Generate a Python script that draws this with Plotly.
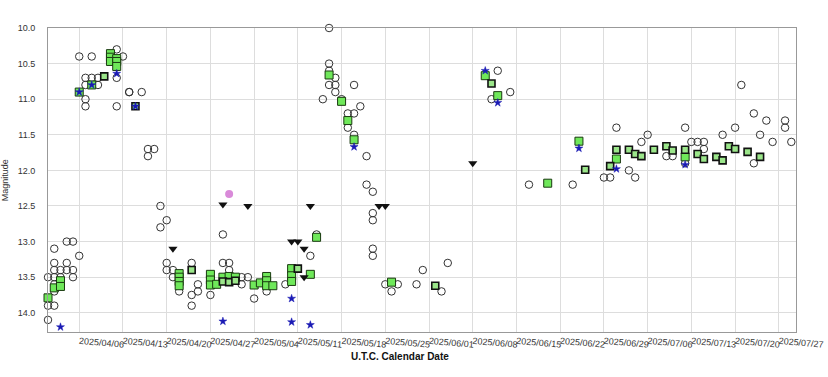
import plotly.graph_objects as go

# ---- Data ----
vis_dates = (["2025-04-01"] * 3 + ["2025-04-02"] * 7 + ["2025-04-03"] * 2 + ["2025-04-04"] * 3 +
             ["2025-04-05"] * 3 + ["2025-04-06"] * 2 + ["2025-04-07"] * 4 + ["2025-04-08"] * 2 +
             ["2025-04-09"] * 2 + ["2025-04-12"] * 3 + ["2025-04-13"] + ["2025-04-14"] * 2 +
             ["2025-04-16"] + ["2025-04-17"] * 2 + ["2025-04-18"] + ["2025-04-19"] * 2 +
             ["2025-04-20"] * 3 + ["2025-04-21"] * 2 + ["2025-04-22"] + ["2025-04-24"] * 3 +
             ["2025-04-25"] * 2 + ["2025-04-27"] + ["2025-04-29"] * 2 + ["2025-04-30"] * 2 +
             ["2025-05-02"] * 2 + ["2025-05-03"] + ["2025-05-04"] + ["2025-05-06"] + ["2025-05-09"] +
             ["2025-05-13"] + ["2025-05-14"] + ["2025-05-15"] + ["2025-05-16"] * 4 +
             ["2025-05-17"] * 3 + ["2025-05-18"] + ["2025-05-19"] * 2 + ["2025-05-20"] * 3 +
             ["2025-05-21"] + ["2025-05-22"] * 2 + ["2025-05-23"] * 5 + ["2025-05-25"] +
             ["2025-05-26"] + ["2025-05-27"] + ["2025-05-30"] + ["2025-05-31"] + ["2025-06-03"] +
             ["2025-06-04"] + ["2025-06-11"] + ["2025-06-12"] + ["2025-06-14"] + ["2025-06-17"] +
             ["2025-06-24"] + ["2025-06-29"] + ["2025-06-30"] + ["2025-07-01"] + ["2025-07-03"] +
             ["2025-07-04"] + ["2025-07-05"] + ["2025-07-06"] + ["2025-07-09"] + ["2025-07-10"] +
             ["2025-07-12"] * 2 + ["2025-07-13"] + ["2025-07-14"] + ["2025-07-15"] * 2 +
             ["2025-07-18"] + ["2025-07-20"] + ["2025-07-21"] + ["2025-07-23"] * 2 +
             ["2025-07-24"] + ["2025-07-25"] + ["2025-07-26"] + ["2025-07-28"] * 2 +
             ["2025-07-29"] + ["2025-07-30"])
vis_mags = ([13.5, 13.9, 14.1] + [13.1, 13.3, 13.4, 13.5, 13.6, 13.7, 13.9] + [13.4, 13.5] +
            [13.0, 13.3, 13.4] + [13.0, 13.4, 13.5] + [13.2, 10.4] + [10.7, 10.8, 11.0, 11.1] +
            [10.4, 10.7] + [10.7, 10.8] + [10.3, 10.7, 11.1] + [10.4] + [10.9, 10.9] + [10.9] +
            [11.7, 11.8] + [11.7] + [12.5, 12.8] + [12.7, 13.3, 13.4] + [13.4, 13.5] + [13.7] +
            [13.3, 13.75, 13.9] + [13.6, 13.7] + [13.75] + [12.9, 13.3] + [13.3, 13.4] +
            [13.5, 13.6] + [13.5] + [13.8] + [13.7] + [13.6] + [13.2] + [12.9] + [11.0] +
            [10.0, 10.5, 10.6, 10.8] + [10.7, 10.8, 10.9] + [11.0] + [11.2, 11.4] +
            [10.8, 11.2, 11.5] + [11.1] + [11.8, 12.2] + [12.3, 12.6, 12.7, 13.1, 13.2] +
            [13.6] + [13.7] + [13.6] + [13.6] + [13.4] + [13.7] + [13.3] + [11.0] + [10.6] +
            [10.9] + [12.2] + [12.2] + [12.1] + [12.1] + [11.4] + [12.0] + [12.1] + [11.6] +
            [11.5] + [11.8] + [11.8] + [11.4, 11.9] + [11.6] + [11.6] + [11.6, 11.7] + [11.5] +
            [11.4] + [10.8] + [11.2, 11.9] + [11.5] + [11.3] + [11.6] + [11.3, 11.4] + [11.6] +
            [11.5])

v_dates = ["2025-04-01", "2025-04-02", "2025-04-03", "2025-04-03", "2025-04-06", "2025-04-08",
           "2025-04-11", "2025-04-11", "2025-04-11", "2025-04-12", "2025-04-12", "2025-04-12",
           "2025-04-22", "2025-04-22", "2025-04-22", "2025-04-22", "2025-04-27", "2025-04-27",
           "2025-04-27", "2025-04-28", "2025-04-29", "2025-04-30", "2025-05-01", "2025-05-04",
           "2025-05-05", "2025-05-06", "2025-05-06", "2025-05-06", "2025-05-07", "2025-05-10",
           "2025-05-10", "2025-05-10", "2025-05-13", "2025-05-14", "2025-05-16", "2025-05-18",
           "2025-05-19", "2025-05-20", "2025-05-26", "2025-06-10", "2025-06-12", "2025-06-20",
           "2025-06-25", "2025-07-01", "2025-07-12"]
v_mags = [13.79, 13.65, 13.55, 13.63, 10.9, 10.8,
          10.36, 10.41, 10.47, 10.43, 10.47, 10.54,
          13.45, 13.5, 13.56, 13.62, 13.46, 13.54,
          13.61, 13.6, 13.5, 13.49, 13.5, 13.61,
          13.58, 13.49, 13.55, 13.62, 13.62, 13.38,
          13.48, 13.56, 13.46, 12.94, 10.66, 11.03,
          11.3, 11.57, 13.57, 10.67, 10.95, 12.18,
          11.59, 11.84, 11.81]

b_dates = ["2025-04-10", "2025-04-15", "2025-04-24", "2025-04-29", "2025-04-30", "2025-05-01",
           "2025-05-11", "2025-06-02", "2025-06-11", "2025-06-26", "2025-06-30", "2025-07-01",
           "2025-07-03", "2025-07-04", "2025-07-05", "2025-07-07", "2025-07-09", "2025-07-10",
           "2025-07-12", "2025-07-14", "2025-07-15", "2025-07-17", "2025-07-18", "2025-07-19",
           "2025-07-20", "2025-07-22", "2025-07-24"]
b_mags = [10.68, 11.1, 13.4, 13.56, 13.57, 13.55,
          13.38, 13.62, 10.78, 11.99, 11.94, 11.71,
          11.71, 11.77, 11.8, 11.71, 11.66, 11.72,
          11.71, 11.77, 11.84, 11.81, 11.86, 11.66,
          11.7, 11.74, 11.81]

star_dates = ["2025-04-03", "2025-04-06", "2025-04-08", "2025-04-12", "2025-04-15", "2025-04-29",
              "2025-05-06", "2025-05-10", "2025-05-10", "2025-05-13", "2025-05-20", "2025-06-10",
              "2025-06-12", "2025-06-25", "2025-07-01", "2025-07-12"]
star_mags = [14.2, 10.9, 10.8, 10.64, 11.1, 14.12,
             14.28, 14.13, 13.8, 14.17, 11.67, 10.6,
             11.05, 11.69, 11.98, 11.92]

lim_dates = ["2025-04-21", "2025-04-29", "2025-05-03", "2025-05-10", "2025-05-11", "2025-05-12",
             "2025-05-12", "2025-05-13", "2025-05-24", "2025-05-25", "2025-06-08"]
lim_mags = [13.1, 12.48, 12.5, 13.0, 13.0, 13.1, 13.5, 12.5, 12.5, 12.5, 11.9]

pink_dates = ["2025-04-30"]
pink_mags = [12.33]

y_ticks = [10.0, 10.5, 11.0, 11.5, 12.0, 12.5, 13.0, 13.5, 14.0]

fig = go.Figure()
fig.add_trace(go.Scatter(x=vis_dates, y=vis_mags, mode="markers", cliponaxis=False,
                         marker=dict(symbol="circle-open", size=7.5, color="#333333",
                                     line=dict(width=1, color="#333333"))))
fig.add_trace(go.Scatter(x=pink_dates, y=pink_mags, mode="markers", cliponaxis=False,
                         marker=dict(symbol="circle", size=8, color="#d98ad9")))
fig.add_trace(go.Scatter(x=v_dates, y=v_mags, mode="markers", cliponaxis=False,
                         marker=dict(symbol="square", size=8, color="#6fe85a",
                                     line=dict(width=1, color="#1a3a10"))))
fig.add_trace(go.Scatter(x=b_dates, y=b_mags, mode="markers", cliponaxis=False,
                         marker=dict(symbol="square", size=7, color="#9be68a",
                                     line=dict(width=1.6, color="#111111"))))
fig.add_trace(go.Scatter(x=star_dates, y=star_mags, mode="markers", cliponaxis=False,
                         marker=dict(symbol="star", size=6, color="#1a1ab4",
                                     line=dict(width=0.5, color="#1a1ab4"))))
fig.add_trace(go.Scatter(x=lim_dates, y=lim_mags, mode="markers", cliponaxis=False,
                         marker=dict(symbol="triangle-down", size=8, color="#111111")))

fig.update_layout(
    width=828, height=377,
    margin=dict(l=48, r=32, t=28, b=45, autoexpand=False),
    paper_bgcolor="white", plot_bgcolor="white",
    showlegend=False,
    font=dict(family="Liberation Sans, Arial, sans-serif", size=9, color="#333333"),
    xaxis=dict(type="date", range=["2025-04-01", "2025-07-29 18:00"],
               tick0="2025-04-06", dtick=7 * 86400000, tickformat="%Y/%m/%d",
               tickangle=5, showgrid=True, gridcolor="#dddddd", gridwidth=1,
               showline=True, linecolor="#999999", linewidth=1, mirror=True,
               ticks="", zeroline=False, automargin=False,
               tickfont=dict(size=9, color="#333333")),
    yaxis=dict(range=[14.27, 10.0], tickvals=y_ticks, tickformat=".1f",
               showgrid=True, gridcolor="#dddddd", gridwidth=1,
               showline=True, linecolor="#999999", linewidth=1, mirror=True,
               ticks="", zeroline=False, ticklabelstandoff=10, automargin=False,
               tickfont=dict(size=9, color="#333333")),
    annotations=[
        dict(text="<b>U.T.C. Calendar Date</b>", xref="paper", yref="paper",
             x=0.47, y=-0.082, xanchor="center", yanchor="middle", showarrow=False,
             font=dict(size=10, color="#111111")),
        dict(text="Magnitude", xref="paper", yref="paper", x=-0.057, y=0.5,
             xanchor="center", yanchor="middle", textangle=-90, showarrow=False,
             font=dict(size=9, color="#333333")),
    ],
)

fig.write_html("out.html", config={"displayModeBar": False},
               post_script="document.body.style.margin='0px';")
